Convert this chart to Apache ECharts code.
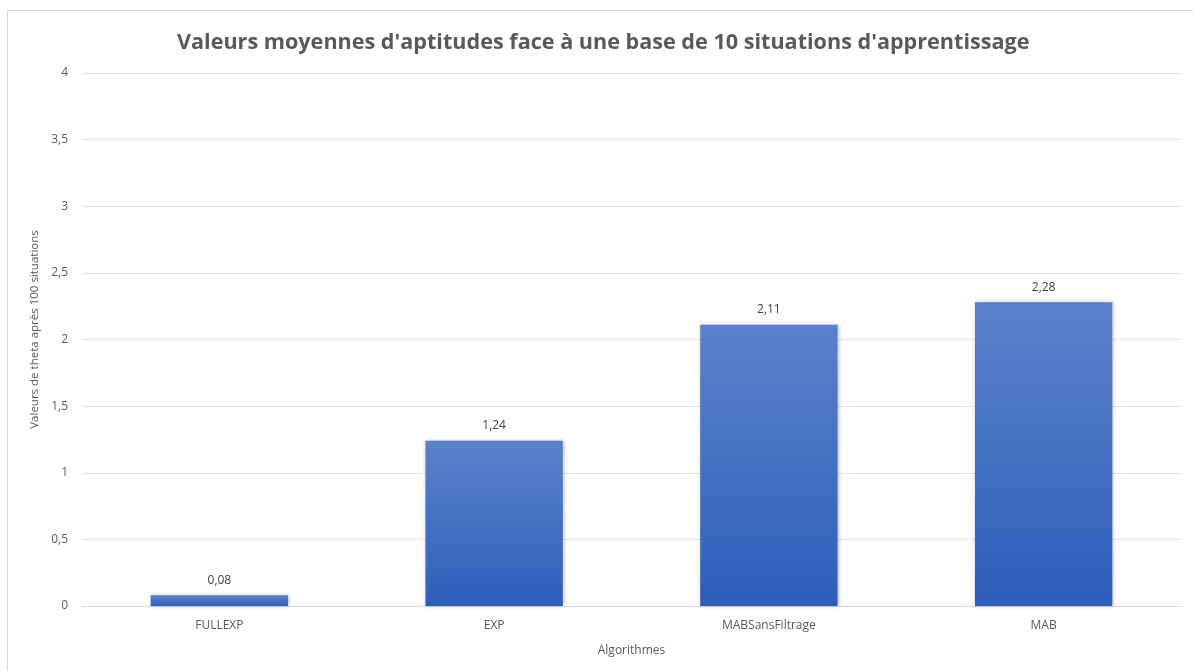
<!DOCTYPE html>
<html>
<head>
<meta charset="utf-8">
<script src="https://cdn.jsdelivr.net/npm/echarts@6/dist/echarts.min.js"></script>
<style>
  html, body { margin: 0; padding: 0; background: #fff; }
  #frame { position: absolute; left: 7px; top: 10px; width: 1200px; height: 680px; border: 1px solid #d9d9d9; box-sizing: border-box; }
  #chart { position: absolute; left: 0; top: 0; width: 1193px; height: 671px; }
</style>
</head>
<body>
<div id="frame"></div>
<div id="chart"></div>
<script>
// Mean theta value per algorithm after 100 learning situations
const categories = ['FULLEXP', 'EXP', 'MABSansFiltrage', 'MAB'];
const values = [0.08, 1.24, 2.11, 2.28];
const yTicks = [0, 0.5, 1, 1.5, 2, 2.5, 3, 3.5, 4];

const fmt = v => String(v).replace('.', ',');
const FONT = '"Open Sans", "Liberation Sans", sans-serif';

const chart = echarts.init(document.getElementById('chart'), null, { renderer: 'canvas' });
chart.setOption({
  backgroundColor: 'transparent',
  animation: false,
  title: {
    text: "Valeurs moyennes d'aptitudes face à une base de 10 situations d'apprentissage",
    left: 172,
    top: 27,
    textStyle: { fontFamily: FONT, fontSize: 21.6, fontWeight: 'bold', color: '#595959' }
  },
  grid: { left: 82, right: 12, top: 73, bottom: 65, containLabel: false },
  xAxis: {
    type: 'category',
    data: categories,
    name: 'Algorithmes',
    nameLocation: 'middle',
    nameGap: 39,
    nameTextStyle: { fontFamily: FONT, fontSize: 12, color: '#595959' },
    axisLine: { lineStyle: { color: '#d9d9d9', width: 1 } },
    axisTick: { show: false },
    axisLabel: { fontFamily: FONT, fontSize: 12, color: '#595959', margin: 14 }
  },
  yAxis: {
    type: 'value',
    min: yTicks[0],
    max: yTicks[yTicks.length - 1],
    interval: 0.5,
    name: 'Valeurs de theta après 100 situations',
    nameLocation: 'middle',
    nameGap: 39,
    nameRotate: 90,
    nameTextStyle: { fontFamily: FONT, fontSize: 11.5, color: '#595959', padding: [0, 0, 0, 20] },
    axisLine: { show: false },
    axisTick: { show: false },
    splitLine: { lineStyle: { color: '#e3e3e3', width: 1 } },
    axisLabel: { fontFamily: FONT, fontSize: 12, color: '#595959', margin: 14, formatter: v => fmt(v) }
  },
  series: [{
    type: 'bar',
    data: values,
    barCategoryGap: '50%',
    itemStyle: {
      color: new echarts.graphic.LinearGradient(0, 0, 0, 1, [
        { offset: 0, color: '#5b81cc' },
        { offset: 1, color: '#2d5fb9' }
      ]),
      shadowColor: 'rgba(0,0,0,0.25)',
      shadowBlur: 4,
      shadowOffsetX: 1,
      shadowOffsetY: 0
    },
    label: {
      show: true,
      position: 'top',
      distance: 9,
      fontFamily: FONT,
      fontSize: 12,
      color: '#404040',
      formatter: p => fmt(p.value)
    }
  }]
});
</script>
</body>
</html>
